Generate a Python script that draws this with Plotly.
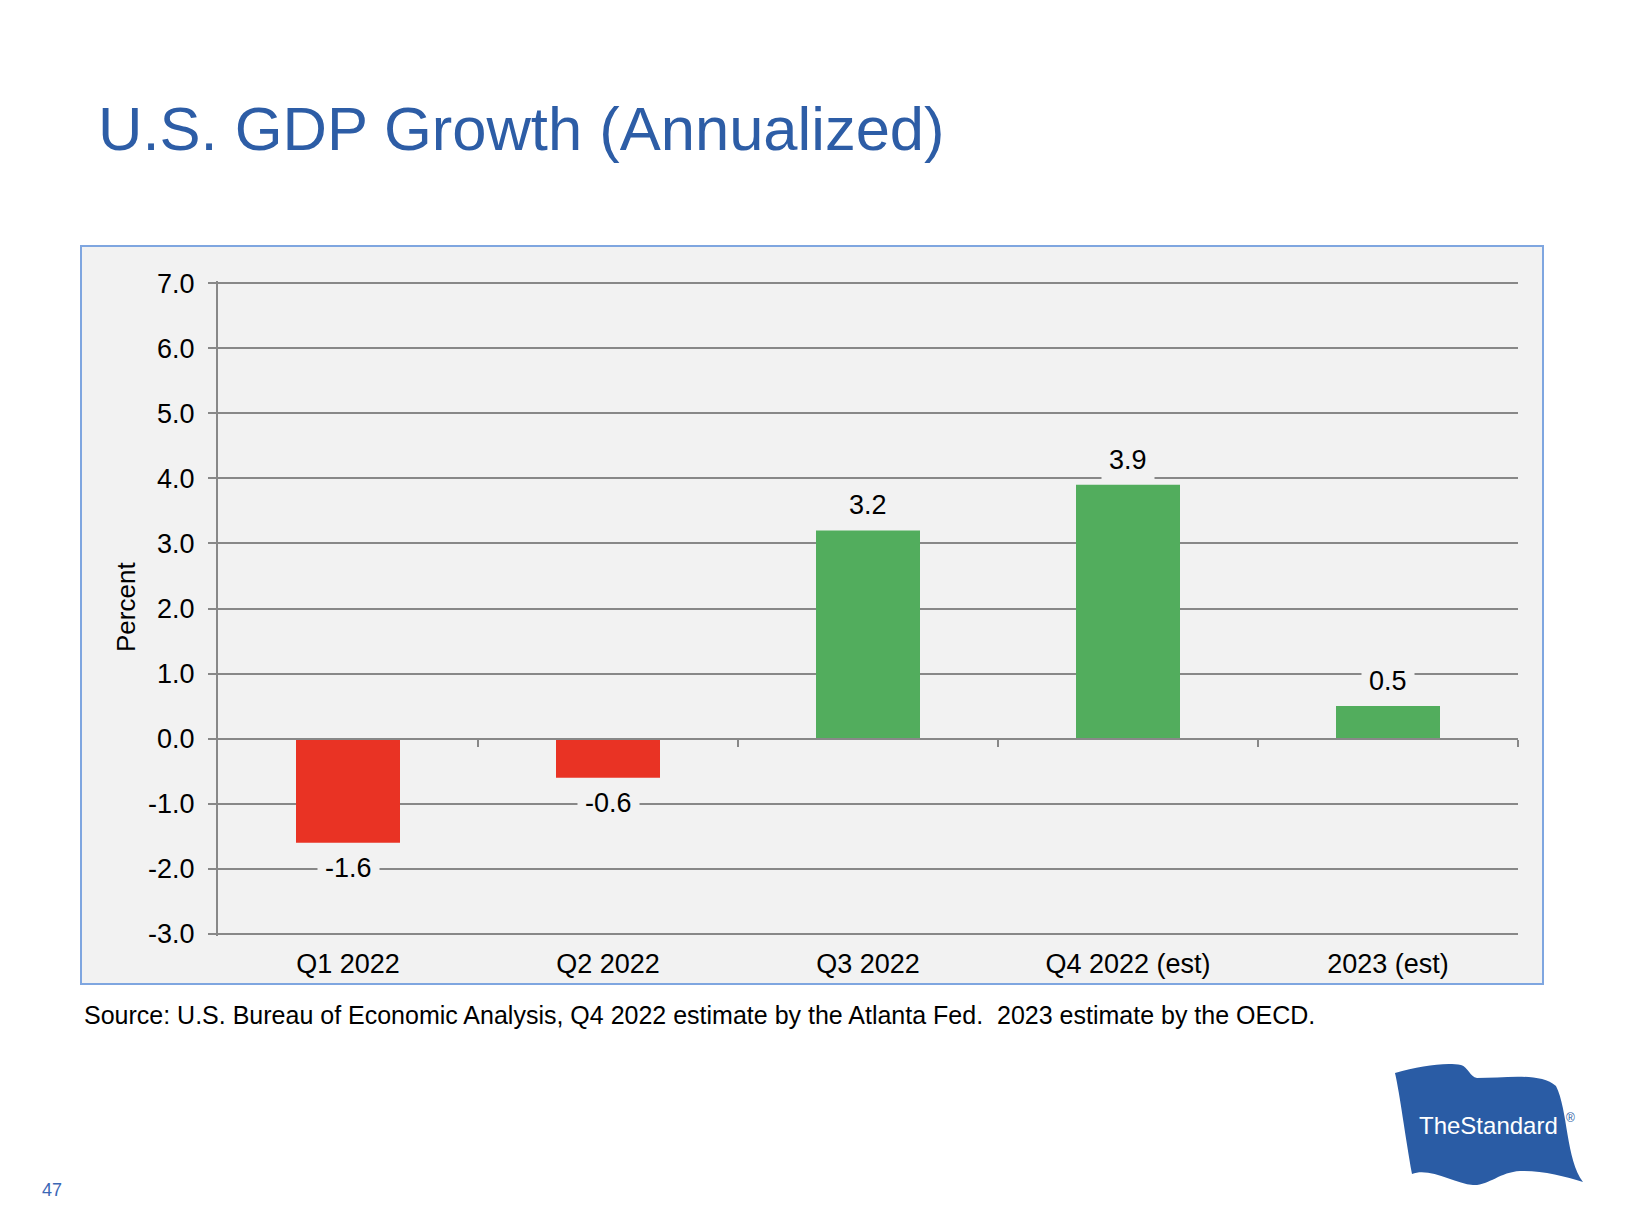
import plotly.graph_objects as go

# ---- data ----
categories = ["Q1 2022", "Q2 2022", "Q3 2022", "Q4 2022 (est)", "2023 (est)"]
gdp_growth = [-1.6, -0.6, 3.2, 3.9, 0.5]
y_tick_values = [-3, -2, -1, 0, 1, 2, 3, 4, 5, 6, 7]

title_text = "U.S. GDP Growth (Annualized)"
source_text = ("Source: U.S. Bureau of Economic Analysis, Q4 2022 estimate by the Atlanta Fed.&nbsp; "
               "2023 estimate by the OECD.")
y_title = "Percent"
page_number = "47"

# ---- styling ----
FONT = "Liberation Sans, Arial, Helvetica, sans-serif"
RED = "#E93324"
GREEN = "#52AD5D"
GRID = "#888888"
BOX_BG = "#F2F2F2"
BOX_LINE = "#7FA6E0"
BLUE = "#2D5DA6"
FLAG = "#2A5CA5"

# the page body has an 8px margin: the figure's origin is at page (8, 8)
W, H = 1632, 1214
ML, MR, MT, MB = 210, 122, 273, 286
PW, PH = W - ML - MR, H - MT - MB
PLOT_LEFT_PAGE = 8 + ML
PLOT_BOTTOM_PAGE = 8 + MT + PH
RANGE_PAD = 0.033


def px(x):
    """page pixel x -> paper coordinate"""
    return (x - PLOT_LEFT_PAGE) / PW


def py(y):
    """page pixel y -> paper coordinate"""
    return (PLOT_BOTTOM_PAGE - y) / PH


fig = go.Figure()
fig.add_trace(go.Bar(
    x=categories, y=gdp_growth,
    marker=dict(color=[RED if v < 0 else GREEN for v in gdp_growth], line=dict(width=0)),
    width=0.4, hoverinfo="x+y",
))

ymin, ymax = min(y_tick_values), max(y_tick_values)
yr = [ymin - RANGE_PAD, ymax + RANGE_PAD]
zero_pos = (0 - yr[0]) / (yr[1] - yr[0])
n = len(categories)

annotations = []
for c, v in zip(categories, gdp_growth):
    annotations.append(dict(
        x=c, y=v, xref="x", yref="y", text=f"{v:.1f}", showarrow=False,
        yanchor="middle", yshift=25 if v >= 0 else -25,
        bgcolor=BOX_BG, borderpad=7, font=dict(size=27, color="black", family=FONT),
    ))

annotations += [
    dict(x=px(96), y=py(128), xref="paper", yref="paper", text=title_text, showarrow=False,
         xanchor="left", yanchor="middle", font=dict(size=61.5, color=BLUE, family=FONT)),
    dict(x=px(82), y=py(1015), xref="paper", yref="paper", text=source_text, showarrow=False,
         xanchor="left", yanchor="middle", font=dict(size=25, color="black", family=FONT)),
    dict(x=px(126), y=py(607), xref="paper", yref="paper", text=y_title, showarrow=False,
         textangle=-90, xanchor="center", yanchor="middle",
         font=dict(size=26, color="black", family=FONT)),
    dict(x=px(52), y=py(1190), xref="paper", yref="paper", text=page_number, showarrow=False,
         xanchor="center", yanchor="middle", font=dict(size=18, color="#3B67B5", family=FONT)),
    dict(x=px(1488), y=py(1125), xref="paper", yref="paper", text="TheStandard", showarrow=False,
         xanchor="center", yanchor="middle", font=dict(size=24, color="white", family=FONT)),
    dict(x=px(1570), y=py(1118), xref="paper", yref="paper", text="®", showarrow=False,
         xanchor="center", yanchor="middle", font=dict(size=12, color=FLAG, family=FONT)),
]


def pt(x, y):
    return f"{px(x):.5f},{py(y):.5f}"


flag_path = (
    f"M {pt(1395,1073)} "
    f"C {pt(1420,1066)} {pt(1445,1062)} {pt(1461,1065)} "
    f"C {pt(1468,1067)} {pt(1470,1077)} {pt(1477,1078)} "
    f"C {pt(1505,1078)} {pt(1540,1072)} {pt(1556,1086)} "
    f"C {pt(1568,1110)} {pt(1566,1160)} {pt(1583,1182)} "
    f"C {pt(1565,1176)} {pt(1540,1170)} {pt(1520,1171)} "
    f"C {pt(1500,1172)} {pt(1488,1186)} {pt(1473,1185)} "
    f"C {pt(1455,1184)} {pt(1430,1167)} {pt(1412,1174)} "
    f"C {pt(1405,1135)} {pt(1400,1095)} {pt(1395,1073)} Z"
)

shapes = [
    dict(type="rect", xref="paper", yref="paper", x0=px(81), x1=px(1543), y0=py(984), y1=py(246),
         fillcolor=BOX_BG, line=dict(color=BOX_LINE, width=2), layer="below"),
    dict(type="path", xref="paper", yref="paper", path=flag_path,
         fillcolor=FLAG, line=dict(width=0), layer="above"),
    dict(type="line", xref="paper", yref="paper", x0=px(1638.5), x1=px(1638.5), y0=py(8), y1=py(1222),
         line=dict(color="#D9D9D9", width=1)),
]

fig.update_layout(
    width=W, height=H,
    margin=dict(l=ML, r=MR, t=MT, b=MB, pad=0),
    paper_bgcolor="white", plot_bgcolor="rgba(0,0,0,0)",
    font=dict(family=FONT, size=26, color="black"),
    showlegend=False,
    annotations=annotations, shapes=shapes,
    xaxis=dict(type="category", categoryorder="array", categoryarray=categories,
               range=[-0.5, n - 0.5], showgrid=False, showline=False, zeroline=False,
               ticks="outside", ticklen=4, tickcolor="rgba(0,0,0,0)",
               tickfont=dict(size=27, color="black", family=FONT)),
    xaxis2=dict(overlaying="x", anchor="free", position=zero_pos, range=[-0.5, n - 0.5],
                tickmode="array", tickvals=[i + 0.5 for i in range(n)], ticks="outside",
                ticklen=7, tickwidth=2, tickcolor=GRID, showticklabels=False,
                showline=True, linecolor=GRID, linewidth=2, showgrid=False, zeroline=False),
    yaxis=dict(range=yr, tickmode="array", tickvals=y_tick_values,
               ticktext=[f"{v:.1f}" for v in y_tick_values],
               showgrid=True, gridcolor=GRID, gridwidth=2, zeroline=False,
               showline=True, linecolor=GRID, linewidth=2,
               ticks="outside", ticklen=8, tickwidth=2, tickcolor=GRID,
               ticklabelstandoff=8,
               tickfont=dict(size=27, color="black", family=FONT)),
)

# invisible trace to activate xaxis2
fig.add_trace(go.Scatter(x=[0], y=[0], xaxis="x2", mode="markers",
                         marker=dict(opacity=0), hoverinfo="skip", showlegend=False))

fig.write_html("out.html")
